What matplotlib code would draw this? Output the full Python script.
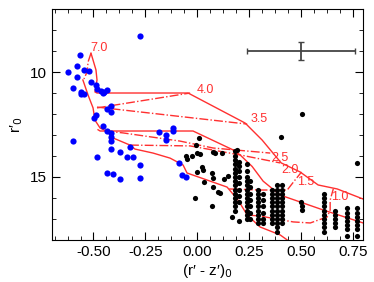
import numpy as np
import matplotlib.pyplot as plt

plt.rcParams['font.family'] = ['Liberation Sans', 'DejaVu Sans']
plt.rcParams['axes.unicode_minus'] = False

# blue stars (r'-z')0, r'0
blue_x = [-0.275, -0.565, -0.579, -0.623, -0.579, -0.546, -0.522, -0.599, -0.560, -0.560,
          -0.546, -0.512, -0.488, -0.483, -0.464, -0.449, -0.435, -0.454, -0.435, -0.415,
          -0.415, -0.497, -0.488, -0.454, -0.435, -0.415, -0.415, -0.415, -0.599, -0.415,
          -0.372, -0.324, -0.338, -0.309, -0.483, -0.275, -0.435, -0.406, -0.372, -0.275,
          -0.184, -0.116, -0.116, -0.150, -0.150, -0.087, -0.073, -0.054]
blue_y = [8.29, 9.19, 9.71, 10.00, 10.24, 9.90, 9.95, 10.76, 10.95, 11.05,
          11.05, 10.48, 10.62, 10.81, 10.90, 10.95, 10.86, 11.00, 11.76, 11.62,
          11.90, 12.19, 12.05, 12.57, 12.81, 12.90, 13.10, 13.29, 13.29, 13.67,
          13.81, 13.57, 14.05, 14.05, 14.05, 14.43, 14.81, 14.86, 15.10, 15.05,
          12.86, 12.67, 12.81, 13.00, 13.24, 14.33, 14.90, 15.00]

# black stars: scattered ones
black_x = [0.506, 0.405, 0.009, -0.005, 0.192, 0.771, 0.000, 0.014, -0.054, -0.025,
           -0.049, 0.077, 0.086, 0.120, 0.183, 0.024, 0.028, 0.000, 0.033, 0.072,
           0.077, 0.077, 0.101, 0.110, -0.010, 0.072, 0.170, 0.200, 0.130, 0.150,
           0.500, 0.506, 0.506]
black_y = [12.00, 13.10, 13.14, 13.48, 13.71, 14.33, 13.86, 13.90, 14.00, 14.00,
           14.14, 13.81, 13.86, 13.86, 13.76, 14.52, 14.67, 14.76, 15.24, 14.81,
           15.05, 15.48, 15.71, 15.76, 16.00, 16.38, 16.90, 17.10, 15.10, 14.95,
           16.19, 16.38, 16.57]

# black stars sitting in vertical columns: column colour and the magnitudes in it
col_x = [0.183, 0.200, 0.241, 0.255, 0.294, 0.318, 0.361, 0.385, 0.410, 0.612, 0.665, 0.723, 0.771]
col_y = [
    [14.0, 14.2, 14.4, 14.6, 14.8, 15.0, 15.2, 15.4, 15.6, 15.8, 16.0, 16.2, 16.4, 16.6],
    [14.3, 14.5, 14.7, 15.0, 15.3, 15.6, 15.9, 16.2],
    [14.4, 14.7, 15.0, 15.2, 15.4, 15.6, 15.8, 16.0, 16.2, 16.4, 16.6, 16.8, 17.0],
    [15.2, 15.5, 15.8, 16.1, 16.4, 16.7, 17.0],
    [15.6, 15.8, 16.0, 16.2, 16.4, 16.6, 16.8, 17.0, 17.2],
    [15.8, 16.1, 16.4, 16.7, 17.0, 17.2],
    [15.6, 15.8, 16.0, 16.2, 16.4, 16.6, 16.8, 17.0, 17.2],
    [15.4, 15.6, 15.8, 16.0, 16.2, 16.4, 16.6, 16.8, 17.0, 17.2, 17.4, 17.6],
    [15.4, 15.6, 15.8, 16.0, 16.2, 16.4, 16.6, 16.8, 17.0, 17.2],
    [15.8, 16.0, 16.2, 16.4, 16.6, 16.8, 17.0, 17.2, 17.4, 17.6],
    [16.6, 16.8, 17.0, 17.2, 17.4],
    [16.5, 16.7, 16.9, 17.1, 17.3, 17.5, 17.8],
    [16.5, 16.7, 16.9, 17.1, 17.3, 17.5, 17.8],
]

# isochrones (solid)
zams_x = [-0.551, -0.526, -0.502, -0.493, -0.468, -0.420, -0.406, -0.324, -0.300,
          -0.213, -0.131, -0.068, -0.049, 0.144, 0.197, 0.241, 0.303, 0.400, 0.434]
zams_y = [10.38, 11.10, 11.71, 12.29, 12.67, 12.90, 13.14, 13.48, 13.67,
          13.86, 14.10, 14.43, 14.81, 15.48, 16.10, 16.81, 17.38, 17.76, 18.0]
iso1_x = [-0.512, -0.488, -0.483, -0.493, -0.483, -0.044, 0.231, 0.313, 0.361, 0.405,
          0.496, 0.583, 0.675, 0.800]
iso1_y = [9.10, 9.90, 10.38, 10.95, 11.00, 11.00, 12.43, 13.24, 13.81, 14.33,
          14.76, 15.38, 15.57, 16.05]
iso2_x = [-0.478, -0.468, -0.020, 0.173, 0.207, 0.265, 0.318, 0.400, 0.511, 0.607, 0.800]
iso2_y = [12.75, 12.81, 12.81, 13.71, 13.95, 14.50, 15.20, 15.86, 16.24, 16.57, 17.19]

# mass tracks (dash-dot), labelled by mass
trk_70 = ([-0.512, -0.526, -0.531, -0.546], [9.10, 9.52, 10.00, 10.33])
trk_40 = ([-0.483, -0.034], [11.71, 11.00])
trk_35 = ([-0.483, 0.241], [11.67, 12.48])
trk_25 = ([-0.444, -0.358, -0.083, 0.077, 0.352], [12.81, 12.90, 13.29, 13.62, 13.86])
trk_20 = ([-0.324, -0.034, 0.207, 0.400], [13.48, 13.52, 13.95, 14.33])
trk_15 = ([0.154, 0.303, 0.434, 0.472, 0.503], [15.57, 15.62, 15.62, 15.14, 14.76])
trk_10 = ([0.241, 0.303, 0.463, 0.545, 0.627, 0.641, 0.641, 0.656],
          [16.81, 16.86, 17.14, 17.19, 16.90, 16.57, 16.10, 15.57])

labels = ['7.0', '4.0', '3.5', '2.5', '2.0', '1.5', '1.0']
label_x = [-0.475, 0.040, 0.300, 0.400, 0.445, 0.525, 0.685]
label_y = [8.86, 10.86, 12.24, 14.10, 14.65, 15.25, 15.95]

red = '#ff3030'
fig = plt.figure(figsize=(3.74, 2.82), dpi=100)
ax = fig.add_axes([0.139, 0.149, 0.832, 0.819])

for xs, ys in [(zams_x, zams_y), (iso1_x, iso1_y), (iso2_x, iso2_y)]:
    ax.plot(xs, ys, '-', color=red, lw=1.0)
for xs, ys in [trk_70, trk_40, trk_35, trk_25, trk_20, trk_15, trk_10]:
    ax.plot(xs, ys, '-.', color=red, lw=1.0)
for t, x, y in zip(labels, label_x, label_y):
    ax.text(x, y, t, color=red, fontsize=9, ha='center', va='center')

cx, cy = [], []
for x, ys in zip(col_x, col_y):
    cx += [x] * len(ys)
    cy += ys
ax.scatter(black_x + cx, black_y + cy, s=14, color='black', lw=0, zorder=3)
ax.scatter(blue_x, blue_y, s=20, color='blue', lw=0, zorder=3)

ax.errorbar([0.5], [9.0], xerr=[0.26], yerr=[0.45], color='#444444', lw=1.3, capsize=2.5)

ax.set_xlim(-0.7, 0.8)
ax.set_ylim(18, 7)
ax.set_xticks([-0.5, -0.25, 0.0, 0.25, 0.5, 0.75])
ax.set_xticks(np.arange(-0.6875, 0.8, 0.0625), minor=True)
ax.set_yticks([10, 15])
ax.set_yticks(np.arange(7, 18.5, 1), minor=True)
ax.tick_params(which='both', direction='in', top=True, right=True, labelsize=11)
ax.tick_params(which='major', length=6)
ax.tick_params(which='minor', length=3)
ax.set_xlabel("(r\u2032 - z\u2032)$_0$", fontsize=11, labelpad=2)
ax.set_ylabel("r\u2032$_0$", fontsize=11)

plt.savefig('out.png', dpi=100)
